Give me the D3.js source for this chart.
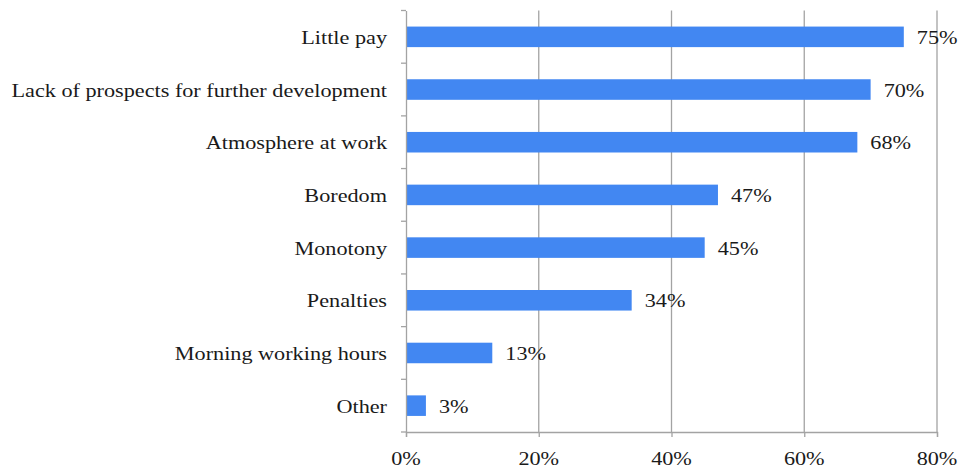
<!DOCTYPE html>
<html>
<head>
<meta charset="utf-8">
<script src="https://cdn.jsdelivr.net/npm/d3@7"></script>
<style>
  html, body { margin: 0; padding: 0; background: #fff; }
  svg { display: block; }
  text { font-family: "Liberation Serif", "Times New Roman", serif; fill: #1a1a1a; }
</style>
</head>
<body>
<svg id="chart" width="963" height="468"></svg>
<script>
// Reasons for leaving a job, share of respondents
const categories = ["Little pay", "Lack of prospects for further development", "Atmosphere at work",
  "Boredom", "Monotony", "Penalties", "Morning working hours", "Other"];
const values = [75, 70, 68, 47, 45, 34, 13, 3];
const xTicks = [0, 20, 40, 60, 80];

const W = 963, H = 468;
const margin = { top: 10.5, right: 26, bottom: 36, left: 406 };
const fontSize = 19;
const stretch = 1.17;   // horizontal glyph stretch
const barColor = "#4287f2";
const gridColor = "#a3a3a3";

const svg = d3.select("#chart");

const x = d3.scaleLinear().domain([0, 80]).range([margin.left, W - margin.right]);
const y = d3.scaleBand().domain(categories).range([margin.top, H - margin.bottom]).paddingInner(0.61).paddingOuter(0.305);
const band = d3.scaleBand().domain(categories).range([margin.top, H - margin.bottom]);

// vertical gridlines
svg.append("g").selectAll("line").data(xTicks.slice(1)).join("line")
  .attr("x1", d => x(d)).attr("x2", d => x(d))
  .attr("y1", margin.top).attr("y2", H - margin.bottom)
  .attr("stroke", gridColor).attr("stroke-width", 1.3);

// bars
svg.append("g").selectAll("rect").data(values).join("rect")
  .attr("x", x(0))
  .attr("y", (d, i) => y(categories[i]))
  .attr("width", d => x(d) - x(0))
  .attr("height", y.bandwidth())
  .attr("fill", barColor);

// helper for stretched text
function stretchedText(g, tx, ty, str, anchor) {
  const t = g.append("g").attr("transform", `translate(${tx},${ty}) scale(${stretch},1)`);
  t.append("text").attr("x", 0).attr("y", 0)
    .attr("text-anchor", anchor)
    .attr("font-size", fontSize)
    .text(str);
}

// value labels
const vl = svg.append("g");
values.forEach((v, i) => {
  stretchedText(vl, x(v) + 13, y(categories[i]) + y.bandwidth() / 2 + 7, v + "%", "start");
});

// left axis
const yAxis = d3.axisLeft(band).tickSize(0).tickFormat("");
const gy = svg.append("g").attr("transform", `translate(${margin.left},0)`).call(yAxis);
gy.select(".domain").attr("stroke", gridColor).attr("stroke-width", 1.3);
// tick marks at band boundaries
const bounds = categories.map(c => band(c)).concat([H - margin.bottom]);
gy.selectAll("line.bt").data(bounds).join("line").attr("class", "bt")
  .attr("x1", -5).attr("x2", 0).attr("y1", d => d).attr("y2", d => d)
  .attr("stroke", gridColor).attr("stroke-width", 1.3);

const cl = svg.append("g");
categories.forEach(c => {
  stretchedText(cl, margin.left - 19, band(c) + band.bandwidth() / 2 + 7, c, "end");
});

// bottom axis
const xAxis = d3.axisBottom(x).tickValues(xTicks).tickSize(5).tickFormat(d => "");
const gx = svg.append("g").attr("transform", `translate(0,${H - margin.bottom})`).call(xAxis);
gx.select(".domain").attr("stroke", gridColor).attr("stroke-width", 1.3);
gx.selectAll(".tick line").attr("stroke", gridColor).attr("stroke-width", 1.3);

const tl = svg.append("g");
xTicks.forEach(t => {
  stretchedText(tl, x(t), 465, t + "%", "middle");
});
</script>
</body>
</html>
